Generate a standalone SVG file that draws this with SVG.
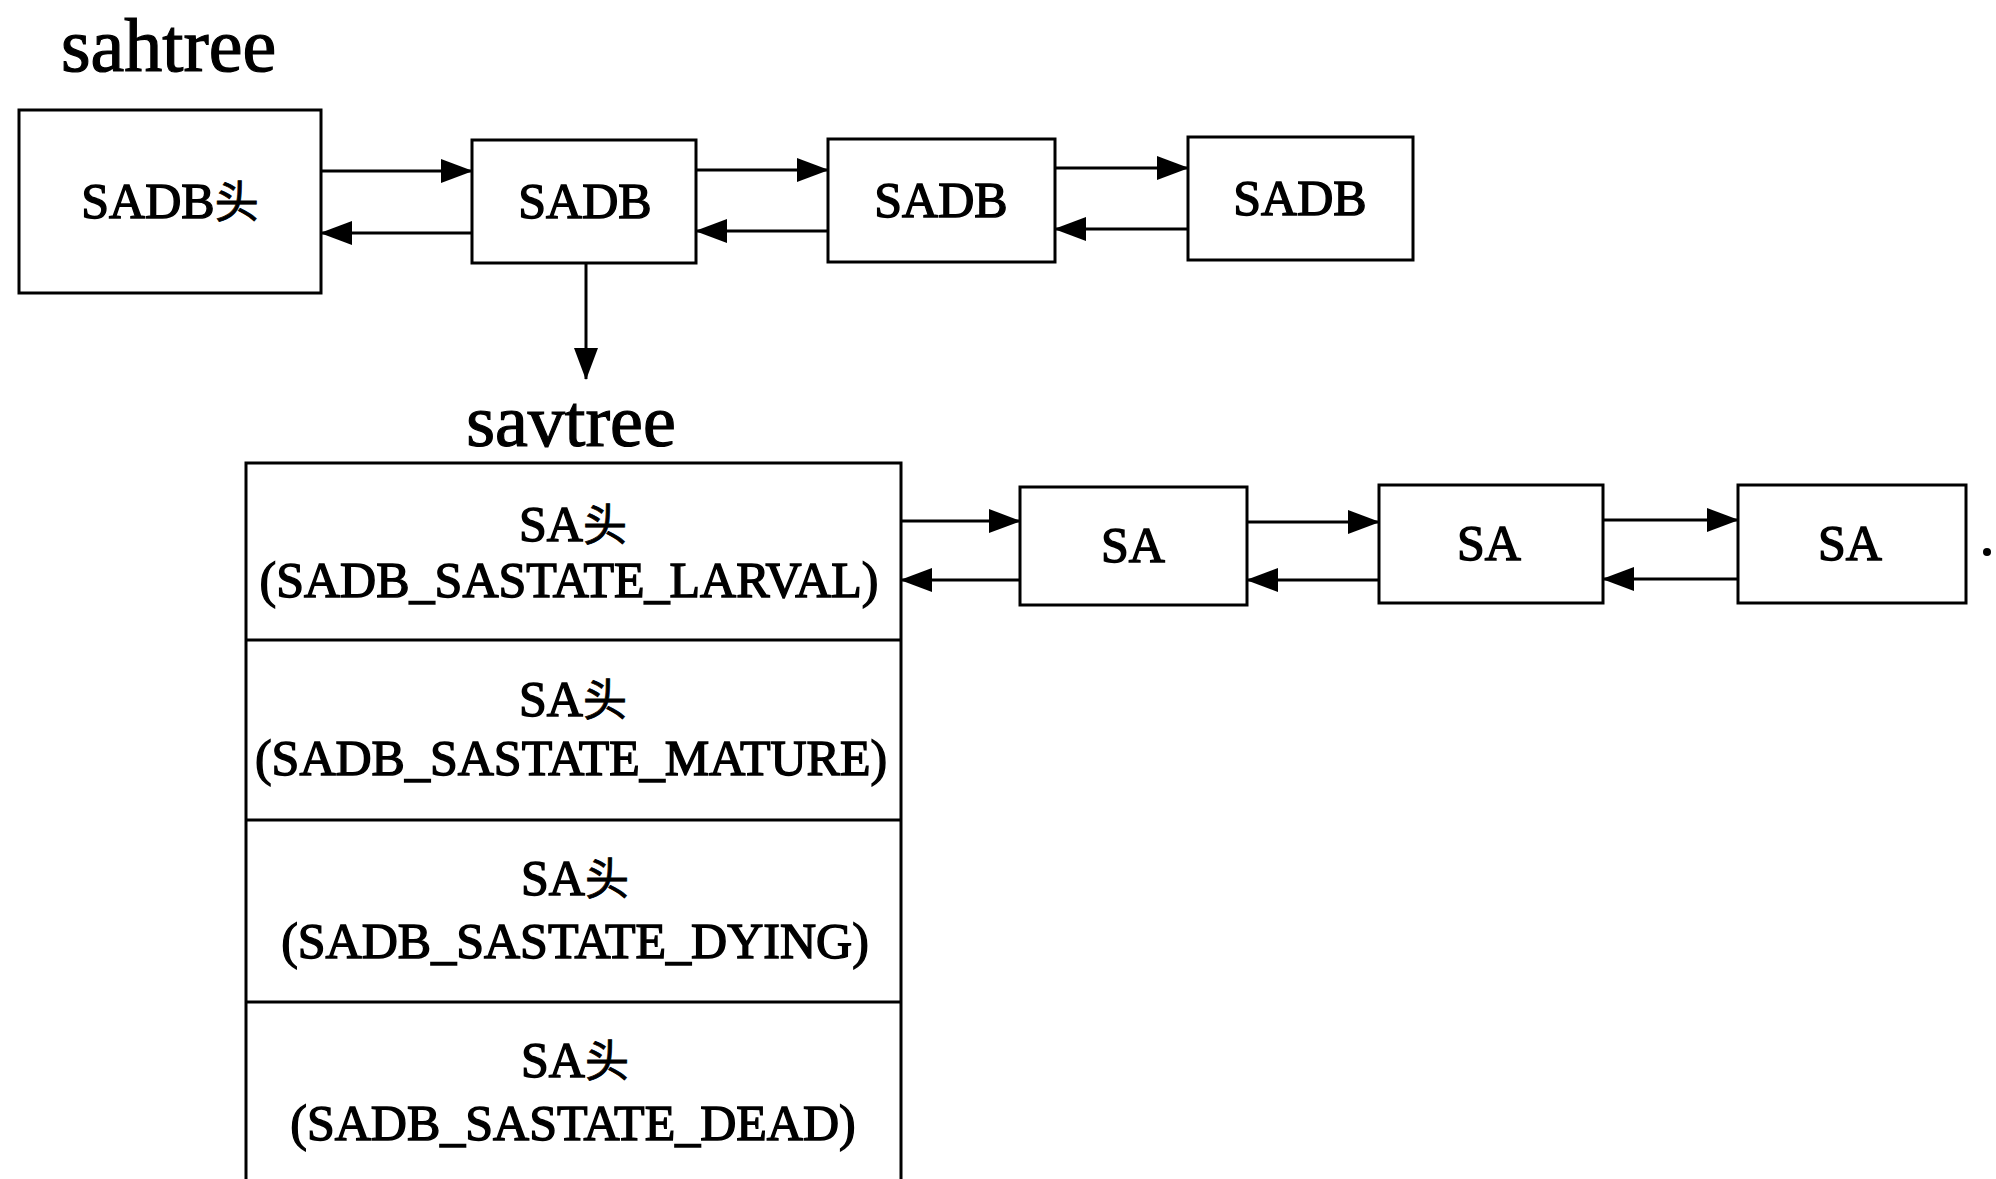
<svg xmlns="http://www.w3.org/2000/svg" width="1996" height="1179" viewBox="0 0 1996 1179">
<style>
  .box { fill: #ffffff; stroke: #000000; stroke-width: 3; }
  .lbl { font-family: "Liberation Serif", "Noto Sans CJK SC", serif; font-size: 50px; fill: #000000; stroke: #000000; stroke-width: 1.4; text-anchor: middle; }
  .title { font-family: "Liberation Serif", serif; fill: #000000; stroke: #000000; stroke-width: 1.2; }
  .cn { font-family: "Noto Sans CJK SC", sans-serif; font-size: 44px; stroke-width: 0.8; }
  .conn { stroke: #000000; stroke-width: 3; fill: none; marker-end: url(#arrow); }
</style>
<defs>
  <marker id="arrow" markerUnits="userSpaceOnUse" markerWidth="32" markerHeight="24" viewBox="0 0 32 24" refX="31" refY="12" orient="auto">
    <path d="M0,0 L32,12 L0,24 Z" fill="#000000"/>
  </marker>
</defs>
<rect x="0" y="0" width="1996" height="1179" fill="#ffffff"/>

<text class="title" x="61" y="71" font-size="76">sahtree</text>
<text class="title" x="571" y="446" font-size="74" text-anchor="middle">savtree</text>

<g id="sadb-head">
  <rect class="box" x="19" y="110" width="302" height="183"/>
  <text class="lbl" x="170" y="218">SADB<tspan class="cn">头</tspan></text>
</g>
<g id="sadb1">
  <rect class="box" x="472" y="140" width="224" height="123"/>
  <text class="lbl" x="585" y="218">SADB</text>
</g>
<g id="sadb2">
  <rect class="box" x="828" y="139" width="227" height="123"/>
  <text class="lbl" x="941" y="217">SADB</text>
</g>
<g id="sadb3">
  <rect class="box" x="1188" y="137" width="225" height="123"/>
  <text class="lbl" x="1300" y="215">SADB</text>
</g>

<g id="savtree-stack">
  <path class="box" d="M246,1182 L246,463 L901,463 L901,1182" />
  <line x1="246" y1="640" x2="901" y2="640" stroke="#000" stroke-width="3"/>
  <line x1="246" y1="820" x2="901" y2="820" stroke="#000" stroke-width="3"/>
  <line x1="246" y1="1002" x2="901" y2="1002" stroke="#000" stroke-width="3"/>
</g>
<g id="sa-head-larval">
  <text class="lbl" x="573" y="541">SA<tspan class="cn">头</tspan></text>
  <text class="lbl" x="569" y="597">(SADB_SASTATE_LARVAL)</text>
</g>
<g id="sa-head-mature">
  <text class="lbl" x="573" y="716">SA<tspan class="cn">头</tspan></text>
  <text class="lbl" x="571" y="775">(SADB_SASTATE_MATURE)</text>
</g>
<g id="sa-head-dying">
  <text class="lbl" x="575" y="895">SA<tspan class="cn">头</tspan></text>
  <text class="lbl" x="575" y="958">(SADB_SASTATE_DYING)</text>
</g>
<g id="sa-head-dead">
  <text class="lbl" x="575" y="1077">SA<tspan class="cn">头</tspan></text>
  <text class="lbl" x="573" y="1140">(SADB_SASTATE_DEAD)</text>
</g>

<g id="sa1">
  <rect class="box" x="1020" y="487" width="227" height="118"/>
  <text class="lbl" x="1133" y="562">SA</text>
</g>
<g id="sa2">
  <rect class="box" x="1379" y="485" width="224" height="118"/>
  <text class="lbl" x="1489" y="560">SA</text>
</g>
<g id="sa3">
  <rect class="box" x="1738" y="485" width="228" height="118"/>
  <text class="lbl" x="1850" y="560">SA</text>
</g>
<circle cx="1987" cy="552" r="4" fill="#000000"/>

<g id="connectors">
  <line class="conn" x1="321" y1="171" x2="472" y2="171"/>
  <line class="conn" x1="472" y1="233" x2="321" y2="233"/>
  <line class="conn" x1="696" y1="170" x2="828" y2="170"/>
  <line class="conn" x1="828" y1="231" x2="696" y2="231"/>
  <line class="conn" x1="1055" y1="168" x2="1188" y2="168"/>
  <line class="conn" x1="1188" y1="229" x2="1055" y2="229"/>
  <line class="conn" x1="586" y1="263" x2="586" y2="379"/>
  <line class="conn" x1="901" y1="521" x2="1020" y2="521"/>
  <line class="conn" x1="1020" y1="580" x2="901" y2="580"/>
  <line class="conn" x1="1247" y1="522" x2="1379" y2="522"/>
  <line class="conn" x1="1379" y1="580" x2="1247" y2="580"/>
  <line class="conn" x1="1603" y1="520" x2="1738" y2="520"/>
  <line class="conn" x1="1738" y1="579" x2="1603" y2="579"/>
</g>
</svg>
